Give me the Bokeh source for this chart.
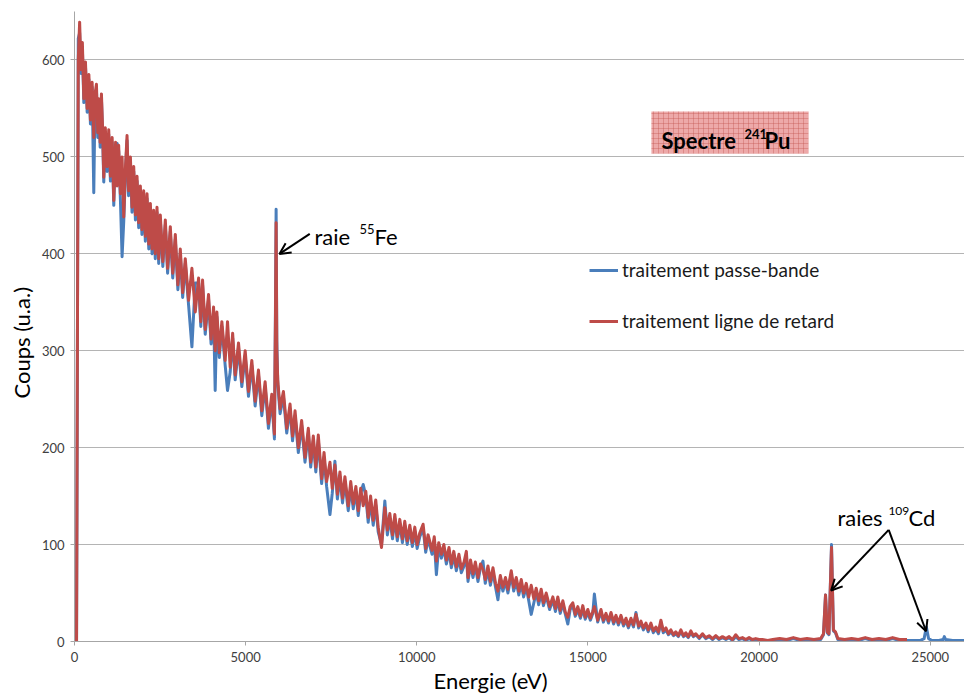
from bokeh.plotting import figure
from bokeh.models import (ColumnDataSource, FixedTicker, BoxAnnotation, Label,
                          Arrow, OpenHead, Legend, LegendItem, Title)
from bokeh.embed import file_html
from bokeh.resources import INLINE

# ---------------- data ----------------
energie_ev = [
    60, 110, 150, 190, 230, 272, 320, 370, 420, 466,
    515, 563, 600, 641, 680, 709, 750, 787, 820, 855,
    900, 952, 1000, 1050, 1100, 1147, 1200, 1244, 1290, 1341,
    1390, 1438, 1490, 1535, 1580, 1633, 1680, 1730, 1780, 1827,
    1875, 1924, 1970, 2021, 2070, 2119, 2170, 2216, 2265, 2313,
    2360, 2410, 2460, 2507, 2580, 2653, 2720, 2799, 2870, 2945,
    3020, 3091, 3160, 3236, 3333, 3430, 3528, 3625, 3690, 3741,
    3819, 3916, 3990, 4062, 4110, 4159, 4230, 4305, 4402, 4470,
    4548, 4620, 4694, 4791, 4888, 4986, 5083, 5180, 5277, 5374,
    5472, 5569, 5666, 5763, 5841, 5870, 5890, 5910, 5938, 6006,
    6103, 6200, 6297, 6370, 6443, 6539, 6636, 6734, 6831, 6900,
    6977, 7050, 7122, 7220, 7290, 7365, 7463, 7530, 7608, 7680,
    7754, 7830, 7900, 7997, 8070, 8143, 8220, 8289, 8360, 8435,
    8510, 8580, 8650, 8726, 8800, 8872, 8969, 9066, 9140, 9212,
    9290, 9358, 9430, 9503, 9580, 9649, 9720, 9795, 9870, 9941,
    10010, 10087, 10184, 10260, 10330, 10446, 10510, 10572, 10640, 10718,
    10790, 10864, 10940, 11010, 11080, 11155, 11230, 11301, 11380, 11447,
    11496, 11570, 11641, 11710, 11787, 11860, 11933, 12000, 12079, 12150,
    12225, 12300, 12370, 12440, 12516, 12590, 12662, 12759, 12830, 12905,
    12980, 13051, 13120, 13197, 13270, 13342, 13420, 13488, 13560, 13634,
    13700, 13780, 13880, 13974, 14050, 14120, 14190, 14266, 14340, 14412,
    14480, 14557, 14630, 14703, 14780, 14849, 14920, 14995, 15070, 15141,
    15187, 15284, 15381, 15450, 15527, 15600, 15673, 15750, 15819, 15890,
    15964, 16040, 16110, 16180, 16256, 16330, 16402, 16480, 16548, 16620,
    16693, 16760, 16839, 16910, 16985, 17060, 17131, 17200, 17277, 17350,
    17422, 17500, 17568, 17640, 17714, 17790, 17860, 17930, 18006, 18080,
    18151, 18250, 18346, 18440, 18540, 18640, 18735, 18830, 18929, 19030,
    19124, 19220, 19318, 19410, 19512, 19610, 19707, 19800, 19901, 20000,
    20095, 20250, 20400, 20600, 20800, 21000, 21200, 21400, 21600, 21800,
    21880, 21940, 21990, 22040, 22115, 22170, 22230, 22300, 22500, 22700,
    22900, 23100, 23300, 23500, 23700, 23900, 24100, 24320, 24500, 24700,
    24820, 24886, 24950, 25050, 25250, 25380, 25410, 25450, 25650, 26000,
]

passe_bande = [
    0, 622, 628, 586, 612, 556, 594, 546, 580, 534,
    572, 463, 560, 570, 520, 555, 510, 560, 525, 474,
    525, 485, 523, 475, 515, 450, 510, 514, 506, 456,
    397, 433, 485, 517, 460, 495, 443, 485, 435, 475,
    427, 465, 420, 460, 413, 457, 405, 447, 400, 440,
    395, 443, 390, 435, 387, 430, 380, 423, 375, 415,
    363, 400, 355, 390, 347, 304, 370, 370, 325, 368,
    317, 353, 307, 340, 259, 335, 293, 325, 285, 259,
    278, 313, 270, 303, 263, 295, 253, 285, 243, 275,
    233, 263, 220, 250, 209, 340, 446, 310, 265, 235,
    253, 215, 240, 207, 233, 195, 223, 185, 215, 180,
    207, 175, 208, 163, 190, 160, 131, 153, 186, 147,
    170, 143, 165, 135, 160, 137, 155, 130, 153, 162,
    150, 123, 145, 120, 141, 113, 100, 145, 110, 127,
    106, 127, 104, 122, 102, 120, 100, 116, 98, 114,
    96, 108, 117, 92, 106, 90, 104, 69, 98, 86,
    96, 80, 93, 76, 89, 73, 86, 71, 78, 89,
    62, 80, 66, 78, 62, 76, 83, 60, 74, 58,
    72, 56, 43, 64, 52, 62, 50, 69, 52, 62,
    48, 60, 46, 56, 42, 28, 40, 51, 38, 50,
    37, 47, 33, 43, 31, 43, 29, 39, 28, 18,
    33, 37, 26, 33, 24, 34, 23, 30, 22, 29,
    49, 20, 31, 20, 27, 19, 28, 18, 25, 17,
    25, 16, 22, 14, 22, 15, 30, 14, 19, 12,
    17, 10, 17, 9, 13, 8, 20, 9, 12, 7,
    10, 6, 8, 5, 10, 5, 7, 4, 9, 5,
    7, 3, 7, 3, 5, 2, 5, 2, 4, 2,
    4, 1, 5, 2, 3, 1, 3, 1, 2, 1,
    1, 1, 1, 2, 1, 3, 1, 2, 1, 2,
    7, 48, 9, 7, 100, 11, 9, 2, 1, 2,
    1, 3, 1, 2, 1, 3, 1, 1, 1, 1,
    3, 15, 3, 1, 1, 2, 5, 2, 1, 1,
]

ligne_retard = [
    0, 600, 639, 590, 618, 560, 598, 550, 585, 538,
    577, 520, 565, 575, 525, 560, 515, 565, 530, 479,
    530, 490, 528, 480, 520, 455, 515, 470, 512, 462,
    500, 438, 490, 522, 465, 500, 448, 490, 440, 480,
    432, 470, 425, 465, 418, 462, 410, 452, 405, 445,
    400, 448, 395, 440, 392, 435, 385, 428, 380, 420,
    368, 405, 360, 395, 352, 385, 340, 375, 330, 373,
    322, 358, 312, 345, 300, 340, 298, 330, 290, 330,
    283, 318, 275, 308, 268, 300, 258, 290, 248, 280,
    238, 268, 225, 255, 214, 330, 432, 300, 270, 240,
    258, 220, 245, 212, 238, 200, 228, 190, 220, 185,
    212, 180, 213, 168, 195, 165, 185, 158, 182, 152,
    175, 148, 170, 140, 165, 142, 160, 135, 158, 140,
    155, 128, 150, 125, 146, 118, 97, 138, 115, 132,
    110, 131, 108, 126, 106, 124, 104, 120, 102, 118,
    100, 112, 121, 96, 110, 94, 108, 83, 102, 90,
    100, 84, 97, 80, 93, 77, 90, 75, 82, 93,
    66, 84, 70, 82, 66, 80, 74, 64, 78, 62,
    76, 60, 52, 68, 56, 66, 54, 73, 56, 66,
    52, 64, 50, 60, 46, 58, 44, 55, 42, 54,
    40, 50, 36, 46, 34, 46, 32, 42, 30, 25,
    36, 40, 28, 36, 26, 37, 25, 33, 24, 31,
    36, 22, 33, 22, 29, 21, 30, 20, 27, 19,
    27, 18, 24, 16, 24, 17, 28, 16, 21, 14,
    19, 12, 19, 11, 15, 10, 22, 11, 14, 8,
    12, 7, 10, 6, 12, 6, 9, 5, 11, 6,
    8, 4, 8, 4, 6, 3, 6, 3, 5, 3,
    5, 2, 7, 3, 4, 2, 4, 2, 3, 2,
    2, 1, 2, 3, 2, 4, 2, 3, 2, 3,
    8, 48, 10, 8, 97, 12, 10, 3, 2, 3,
    2, 4, 2, 3, 2, 4, 2, 2,
]

serie_labels = ["traitement passe-bande", "traitement ligne de retard"]
x_ticks = [0, 5000, 10000, 15000, 20000, 25000]
y_ticks = [0, 100, 200, 300, 400, 500, 600]

# ---------------- figure ----------------
FONT = "Lato"
BLUE = "#4A7EBB"
RED = "#BE4B48"
AXIS_GREY = "#A6A6A6"

p = figure(width=964, height=700, x_range=(0, 26000), y_range=(0, 650),
           output_backend="svg", toolbar_location=None,
           min_border_left=74, min_border_right=0, min_border_top=11,
           min_border_bottom=59)
p.outline_line_color = None
p.background_fill_color = "white"
p.border_fill_color = "white"

src_b = ColumnDataSource(dict(x=energie_ev, y=passe_bande))
src_r = ColumnDataSource(dict(x=energie_ev[:len(ligne_retard)], y=ligne_retard))
lb = p.line("x", "y", source=src_b, line_color=BLUE, line_width=3, line_join="round")
lr = p.line("x", "y", source=src_r, line_color=RED, line_width=3, line_join="round")

# axes
for ax, ticks in ((p.xaxis, x_ticks), (p.yaxis, y_ticks)):
    ax.ticker = FixedTicker(ticks=ticks)
    ax.axis_line_color = AXIS_GREY
    ax.major_tick_line_color = AXIS_GREY
    ax.major_tick_in = 0
    ax.major_tick_out = 4
    ax.minor_tick_line_color = None
    ax.major_label_text_font = FONT
    ax.major_label_text_font_size = "13px"
    ax.major_label_text_color = "#404040"
    ax.major_label_standoff = 6
p.xgrid.grid_line_color = None
p.ygrid.ticker = FixedTicker(ticks=y_ticks)
p.ygrid.grid_line_color = "#B4B4B4"
p.ygrid.grid_line_width = 1

# axis titles
p.add_layout(Title(text="Energie (eV)", align="left", offset=359, standoff=0,
                   text_font=FONT, text_font_size="22px", text_font_style="normal",
                   text_color="#000000"), "below")
p.add_layout(Title(text="Coups (u.a.)", align="left", offset=243, standoff=7,
                   text_font=FONT, text_font_size="22px", text_font_style="normal",
                   text_color="#000000"), "left")

# legend
legend = Legend(items=[LegendItem(label=serie_labels[0], renderers=[lb]),
                       LegendItem(label=serie_labels[1], renderers=[lr])],
                location=(515, 309), orientation="vertical",
                glyph_width=29, glyph_height=22, label_height=22, spacing=28,
                label_standoff=4, padding=0, margin=0,
                label_text_font=FONT, label_text_font_size="19px",
                label_text_color="#1A1A1A",
                background_fill_alpha=0, border_line_color=None)
p.add_layout(legend)

# title box "Spectre 241Pu"
p.add_layout(BoxAnnotation(left=16854, right=21440, bottom=503.4, top=546.7,
                           fill_color="#EDA9A9", fill_alpha=1.0, line_color=None,
                           hatch_pattern="+", hatch_color="#C0504D",
                           hatch_scale=5, hatch_weight=0.6, hatch_alpha=0.6))
tx, ty = 17146, 516.8
p.add_layout(Label(x=tx, y=ty, text="Spectre", text_font=FONT, text_font_style="bold",
                   text_font_size="22px", text_color="#000000", text_baseline="alphabetic"))
p.add_layout(Label(x=tx, y=ty, x_offset=83, y_offset=7, text="241", text_font=FONT,
                   text_font_style="bold", text_font_size="13px", text_color="#000000",
                   text_baseline="alphabetic"))
p.add_layout(Label(x=tx, y=ty, x_offset=103, text="Pu", text_font=FONT,
                   text_font_style="bold", text_font_size="22px", text_color="#000000",
                   text_baseline="alphabetic"))

# annotation "raie 55Fe"
fx, fy = 7010, 417.7
p.add_layout(Label(x=fx, y=fy, text="raie", text_font=FONT, text_font_size="22px",
                   text_color="#000000", text_baseline="alphabetic"))
p.add_layout(Label(x=fx, y=fy, x_offset=45, y_offset=8, text="55", text_font=FONT,
                   text_font_size="13px", text_color="#000000", text_baseline="alphabetic"))
p.add_layout(Label(x=fx, y=fy, x_offset=60, text="Fe", text_font=FONT,
                   text_font_size="22px", text_color="#000000", text_baseline="alphabetic"))
p.add_layout(Arrow(end=OpenHead(size=11, line_width=2, line_color="black"),
                   x_start=6873, y_start=420.5, x_end=5988, y_end=399.9,
                   line_width=2, line_color="black"))

# annotation "raies 109Cd"
cx, cy = 22287, 128.2
p.add_layout(Label(x=cx, y=cy, text="raies", text_font=FONT, text_font_size="22px",
                   text_color="#000000", text_baseline="alphabetic"))
p.add_layout(Label(x=cx, y=cy, x_offset=51, y_offset=6, text="109", text_font=FONT,
                   text_font_size="12px", text_color="#000000", text_baseline="alphabetic"))
p.add_layout(Label(x=cx, y=cy, x_offset=71, text="Cd", text_font=FONT,
                   text_font_size="22px", text_color="#000000", text_baseline="alphabetic"))
for ex, ey in ((22103, 52.6), (24878, 10.6)):
    p.add_layout(Arrow(end=OpenHead(size=11, line_width=2, line_color="black"),
                       x_start=23786, y_start=115.2, x_end=ex, y_end=ey,
                       line_width=2, line_color="black"))

open("out.html", "w").write(file_html(p, INLINE))
